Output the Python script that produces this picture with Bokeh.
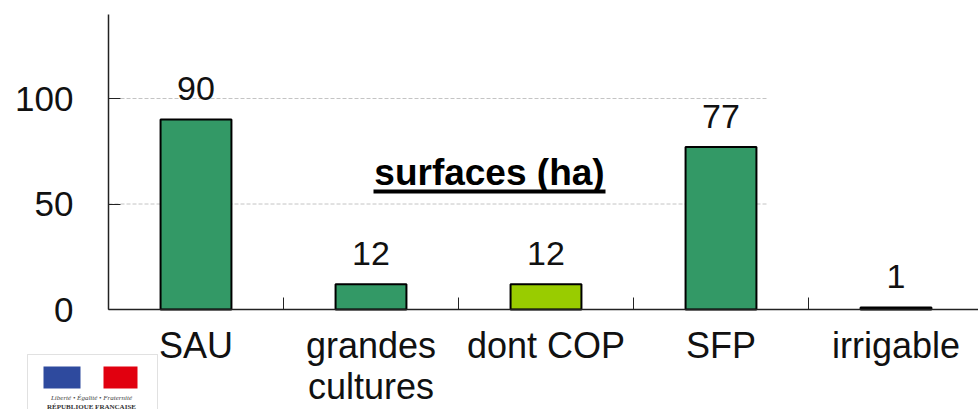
from bokeh.plotting import figure
from bokeh.models import Range1d, FixedTicker, Label, BoxAnnotation, ColumnDataSource
from bokeh.core.properties import value
from bokeh.embed import file_html
from bokeh.resources import INLINE

# ---- data ----
categories = ["SAU", "grandes\ncultures", "dont COP", "SFP", "irrigable"]
surfaces = [90, 12, 12, 77, 1]
bar_colors = ["#339966", "#339966", "#99CC00", "#339966", "#339966"]
y_ticks = [0, 50, 100]
title_text = "surfaces (ha)"

# category slot = 2 x-units; centers at 1,3,5,...
centers = [2 * i + 1 for i in range(len(categories))]
boundaries = [2 * i for i in range(1, len(categories))]
value_labels = [str(v) for v in surfaces]

FONT = "Liberation Sans"

# the frame covers the whole canvas; axes are pinned at x=0 / y=0
p = figure(width=978, height=409, output_backend="svg", toolbar_location=None,
           x_range=Range1d(-1.2343, 9.9429), y_range=Range1d(-47.39, 146.45),
           min_border=0)
p.outline_line_color = None
p.background_fill_color = "white"
p.border_fill_color = "white"
p.xgrid.visible = False
p.ygrid.visible = False

# dashed gridlines (stop short of the right side, as in the reference)
grid_y = [t for t in y_ticks if t > 0]
p.segment(x0=[0] * len(grid_y), x1=[7.53] * len(grid_y), y0=grid_y, y1=grid_y,
          line_color="#c4c4c4", line_width=1, line_dash="4 2")

src = ColumnDataSource(dict(x=centers, top=surfaces, color=bar_colors, lab=value_labels))
p.vbar(x="x", top="top", width=0.81, fill_color="color", line_color="black",
       line_width=2, source=src)
p.text(x="x", y="top", text="lab", source=src, text_align="center",
       text_baseline="middle", y_offset=-31, text_font=value(FONT),
       text_font_size="34px", text_color="#111111")

# x axis: labels at centers, small inward ticks at category boundaries
xa = p.xaxis[0]
xa.fixed_location = 0
xa.bounds = (0, 10)
xa.ticker = FixedTicker(ticks=centers, minor_ticks=boundaries)
xa.major_label_overrides = {c: lab for c, lab in zip(centers, categories)}
xa.major_tick_in = 0
xa.major_tick_out = 0
xa.minor_tick_in = 12
xa.minor_tick_out = 0
xa.minor_tick_line_color = "#222222"
xa.axis_line_color = "#222222"
xa.axis_line_width = 1.5
xa.major_label_text_font = FONT
xa.major_label_text_font_size = "36px"
xa.major_label_text_color = "#111111"
xa.major_label_text_line_height = 1.0
xa.major_label_standoff = 15

ya = p.yaxis[0]
ya.fixed_location = 0
ya.bounds = (0, 140)
ya.ticker = FixedTicker(ticks=y_ticks)
ya.minor_tick_line_color = None
ya.major_tick_in = 12
ya.major_tick_out = 0
ya.major_tick_line_color = "#222222"
ya.axis_line_color = "#222222"
ya.axis_line_width = 1.5
ya.major_label_text_font = FONT
ya.major_label_text_font_size = "35px"
ya.major_label_text_color = "#111111"
ya.major_label_standoff = 35

# title, bold and underlined
p.text(x=[4.354], y=[64.9], text=[title_text], text_align="center",
       text_baseline="middle", text_font=value(FONT), text_font_size="37px",
       text_font_style="bold", text_color="#000000")
p.add_layout(BoxAnnotation(left=373, right=605, top=220, bottom=216,
                           left_units="screen", right_units="screen",
                           top_units="screen", bottom_units="screen",
                           fill_color="black", fill_alpha=1, line_color=None))

# Republic logo (bottom-left)
p.add_layout(BoxAnnotation(left=27, right=157, top=55, bottom=-5,
                           left_units="screen", right_units="screen",
                           top_units="screen", bottom_units="screen",
                           fill_color="white", fill_alpha=1,
                           line_color="#9a9a9a", line_width=1))
p.add_layout(BoxAnnotation(left=43, right=80, top=43, bottom=21,
                           left_units="screen", right_units="screen",
                           top_units="screen", bottom_units="screen",
                           fill_color="#2E4A9E", fill_alpha=1, line_color=None))
p.add_layout(BoxAnnotation(left=103, right=137, top=43, bottom=21,
                           left_units="screen", right_units="screen",
                           top_units="screen", bottom_units="screen",
                           fill_color="#E1000F", fill_alpha=1, line_color=None))
p.add_layout(Label(x=91, y=12, x_units="screen", y_units="screen",
                   text="Liberté • Égalité • Fraternité", text_font="Liberation Serif",
                   text_font_size="7px", text_font_style="italic",
                   text_align="center", text_baseline="middle", text_color="#444444"))
p.add_layout(Label(x=91, y=3, x_units="screen", y_units="screen",
                   text="RÉPUBLIQUE FRANÇAISE", text_font="Liberation Serif",
                   text_font_size="7px", text_font_style="bold",
                   text_align="center", text_baseline="middle", text_color="#333333"))

open("out.html", "w").write(file_html(p, INLINE))
